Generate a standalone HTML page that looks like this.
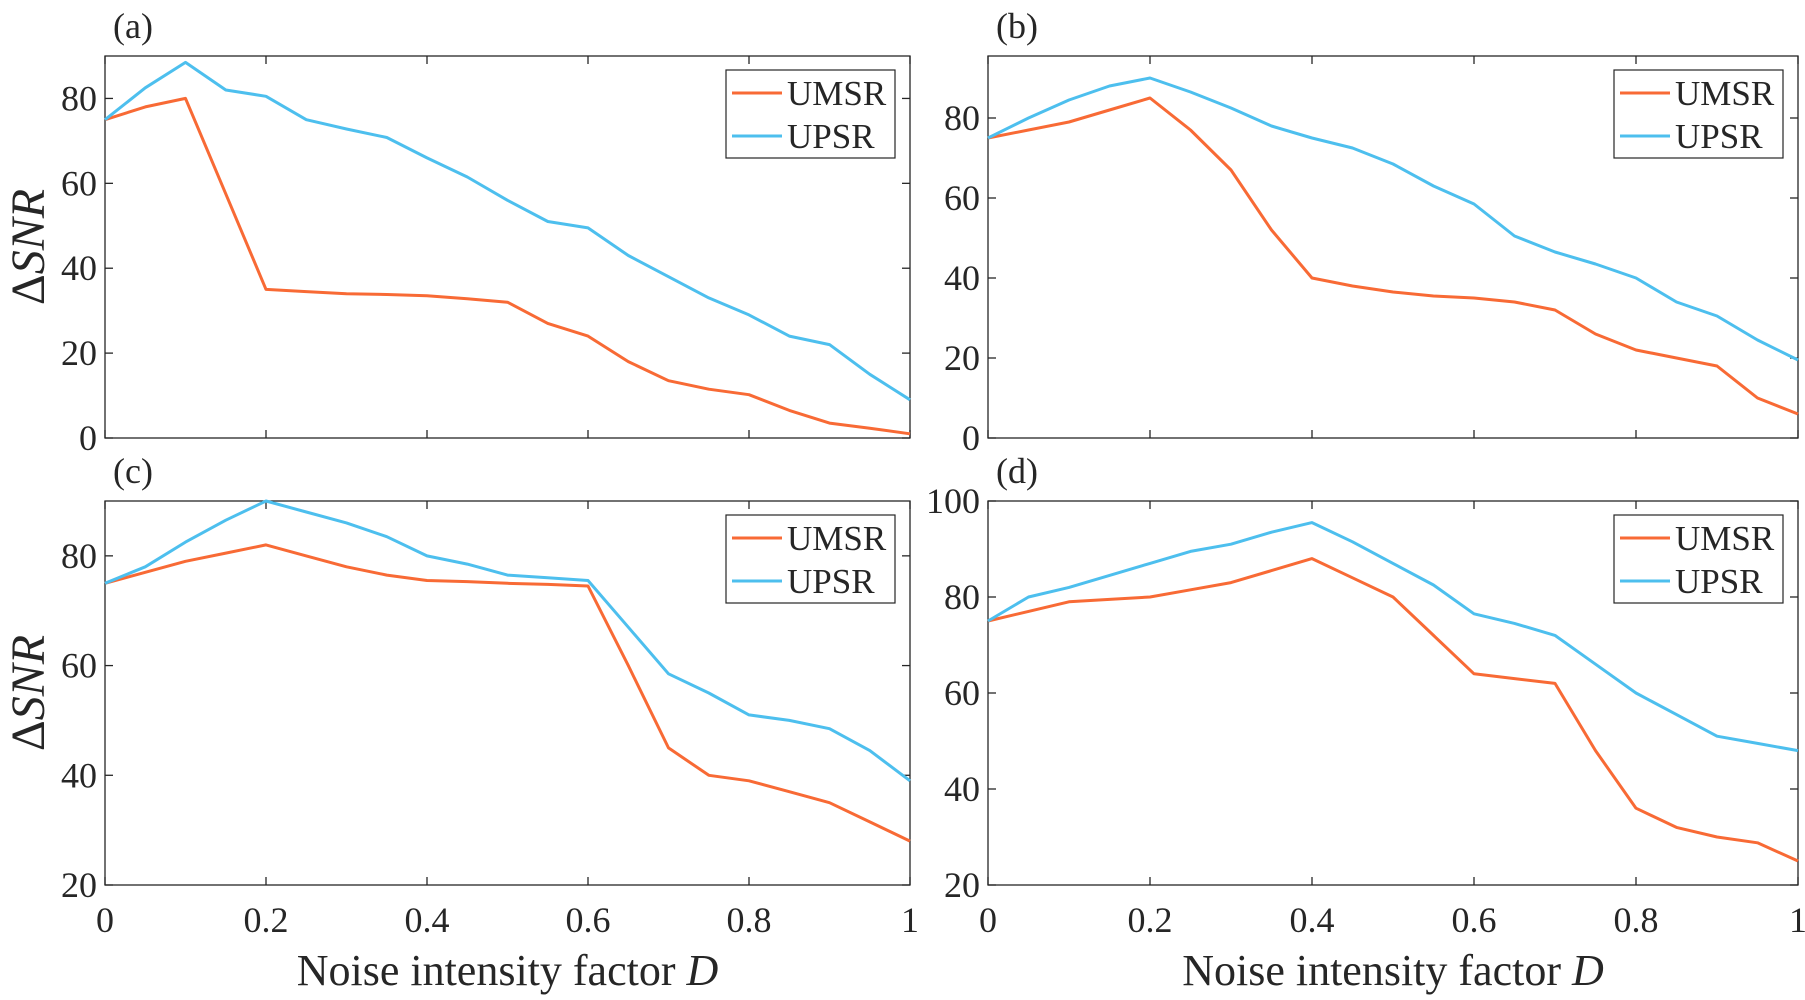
<!DOCTYPE html>
<html><head><meta charset="utf-8"><style>
html,body{margin:0;padding:0;background:#fff;}
svg{display:block;}
text{font-family:"Liberation Serif",serif;fill:#262626;}
</style></head><body>
<svg id="fig" width="1805" height="1000" viewBox="0 0 1805 1000" xmlns="http://www.w3.org/2000/svg"></svg>
<script>
const xVals=[0,0.05,0.1,0.15,0.2,0.25,0.3,0.35,0.4,0.45,0.5,0.55,0.6,0.65,0.7,0.75,0.8,0.85,0.9,0.95,1];
const xTicks=[0,0.2,0.4,0.6,0.8,1];
const xTickLabels=["0","0.2","0.4","0.6","0.8","1"];
const aUMSR=[75,78,80,57.5,35,34.5,34,33.8,33.5,32.8,32,27,24,18,13.5,11.5,10.2,6.5,3.5,2.3,1];
const aUPSR=[75,82.5,88.5,82,80.5,75,72.8,70.8,66,61.5,56,51,49.5,43,38,33,29,24,22,15,9];
const bUMSR=[75,77,79,82,85,77,67,52,40,38,36.5,35.5,35,34,32,26,22,20,18,10,6];
const bUPSR=[75,80,84.5,88,90,86.5,82.5,78,75,72.5,68.5,63,58.5,50.5,46.5,43.5,40,34,30.5,24.5,19.5];
const cUMSR=[75,77,79,80.5,82,80,78,76.5,75.5,75.3,75,74.8,74.5,60,45,40,39,37,35,31.5,28];
const cUPSR=[75,78,82.5,86.5,90,88,86,83.5,80,78.5,76.5,76,75.5,67,58.5,55,51,50,48.5,44.5,39];
const dUMSR=[75,77,79,79.5,80,81.5,83,85.5,88,84,80,72,64,63,62,48,36,32,30,28.8,25];
const dUPSR=[75,80,82,84.5,87,89.5,91,93.5,95.5,91.5,87,82.5,76.5,74.5,72,66,60,55.5,51,49.5,48];
const aTicks=[0,20,40,60,80], bTicks=[0,20,40,60,80], cTicks=[20,40,60,80], dTicks=[20,40,60,80,100];
const seriesNames=["UMSR","UPSR"];
const colors=["#F86A35","#4DBFEE"];
const NS="http://www.w3.org/2000/svg";
const svg=document.getElementById('fig');
function el(tag,attrs,parent){const e=document.createElementNS(NS,tag);for(const k in attrs)e.setAttribute(k,attrs[k]);(parent||svg).appendChild(e);return e;}
const panels=[
 {id:'a',x0:105,x1:910,y0:56,y1:438,ymin:0,ymax:90,ticks:aTicks,s:[aUMSR,aUPSR],ylab:true,xlab:false},
 {id:'b',x0:988,x1:1798,y0:56,y1:438,ymin:0,ymax:95.5,ticks:bTicks,s:[bUMSR,bUPSR],ylab:false,xlab:false},
 {id:'c',x0:105,x1:910,y0:501,y1:885,ymin:20,ymax:90,ticks:cTicks,s:[cUMSR,cUPSR],ylab:true,xlab:true},
 {id:'d',x0:988,x1:1798,y0:501,y1:885,ymin:20,ymax:100,ticks:dTicks,s:[dUMSR,dUPSR],ylab:false,xlab:true}
];
panels.forEach(p=>{
 const g=el('g',{});
 
 
 const sx=v=>p.x0+(v-0)/(1-0)*(p.x1-p.x0);
 const sy=v=>p.y1-(v-p.ymin)/(p.ymax-p.ymin)*(p.y1-p.y0);
 const box=el('rect',{x:p.x0,y:p.y0,width:p.x1-p.x0,height:p.y1-p.y0,fill:'none',stroke:'#262626','stroke-width':1.3},g);
 
 
 xTicks.forEach((t,i)=>{
  const X=sx(t);
  el('line',{x1:X,x2:X,y1:p.y1,y2:p.y1-8,stroke:'#262626','stroke-width':1.3},g);
  el('line',{x1:X,x2:X,y1:p.y0,y2:p.y0+8,stroke:'#262626','stroke-width':1.3},g);
  if(p.xlab){const tx=el('text',{x:X,y:p.y1+47,'text-anchor':'middle','font-size':36},g);tx.textContent=xTickLabels[i];
   
   }
 });
 p.ticks.forEach(t=>{
  const Y=sy(t);
  el('line',{x1:p.x0,x2:p.x0+8,y1:Y,y2:Y,stroke:'#262626','stroke-width':1.3},g);
  el('line',{x1:p.x1,x2:p.x1-8,y1:Y,y2:Y,stroke:'#262626','stroke-width':1.3},g);
  const tx=el('text',{x:p.x0-8,y:Y+12,'text-anchor':'end','font-size':36},g);tx.textContent=String(t);
  
  
 });
 p.s.forEach((arr,si)=>{
  const pts=arr.map((v,i)=>sx(xVals[i]).toFixed(1)+','+sy(v).toFixed(1)).join(' ');
  const pl=el('polyline',{points:pts,fill:'none',stroke:colors[si],'stroke-width':3,'stroke-linejoin':'round'},g);
  
  
 });
 const lx=p.x1-184, ly=p.y0+14;
 const lg=el('g',{},g);
 
 
 el('rect',{x:lx,y:ly,width:169,height:88,fill:'#fff',stroke:'#262626','stroke-width':1.2},lg);
 seriesNames.forEach((n,si)=>{
  const cy=ly+23+si*43;
  el('line',{x1:lx+6,x2:lx+56,y1:cy,y2:cy,stroke:colors[si],'stroke-width':3},lg);
  const t=el('text',{x:lx+61,y:cy+12,'font-size':35},lg);t.textContent=n;
  
  
 });
 const pl=el('text',{x:p.x0+8,y:p.y0-18,'font-size':36},g);pl.textContent='('+p.id+')';
 
 
 if(p.ylab){
  const cy=(p.y0+p.y1)/2;
  const t=el('text',{x:0,y:0,'font-size':48,'text-anchor':'middle',transform:`translate(44,${cy}) rotate(-90)`},g);
  t.innerHTML='Δ<tspan font-style="italic">SNR</tspan>';
  
  
 }
 if(p.xlab){
  const t=el('text',{x:(p.x0+p.x1)/2,y:p.y1+100,'font-size':44,'text-anchor':'middle'},g);
  t.innerHTML='Noise intensity factor <tspan font-style="italic">D</tspan>';
  
  
 }
});
</script>
</body></html>
